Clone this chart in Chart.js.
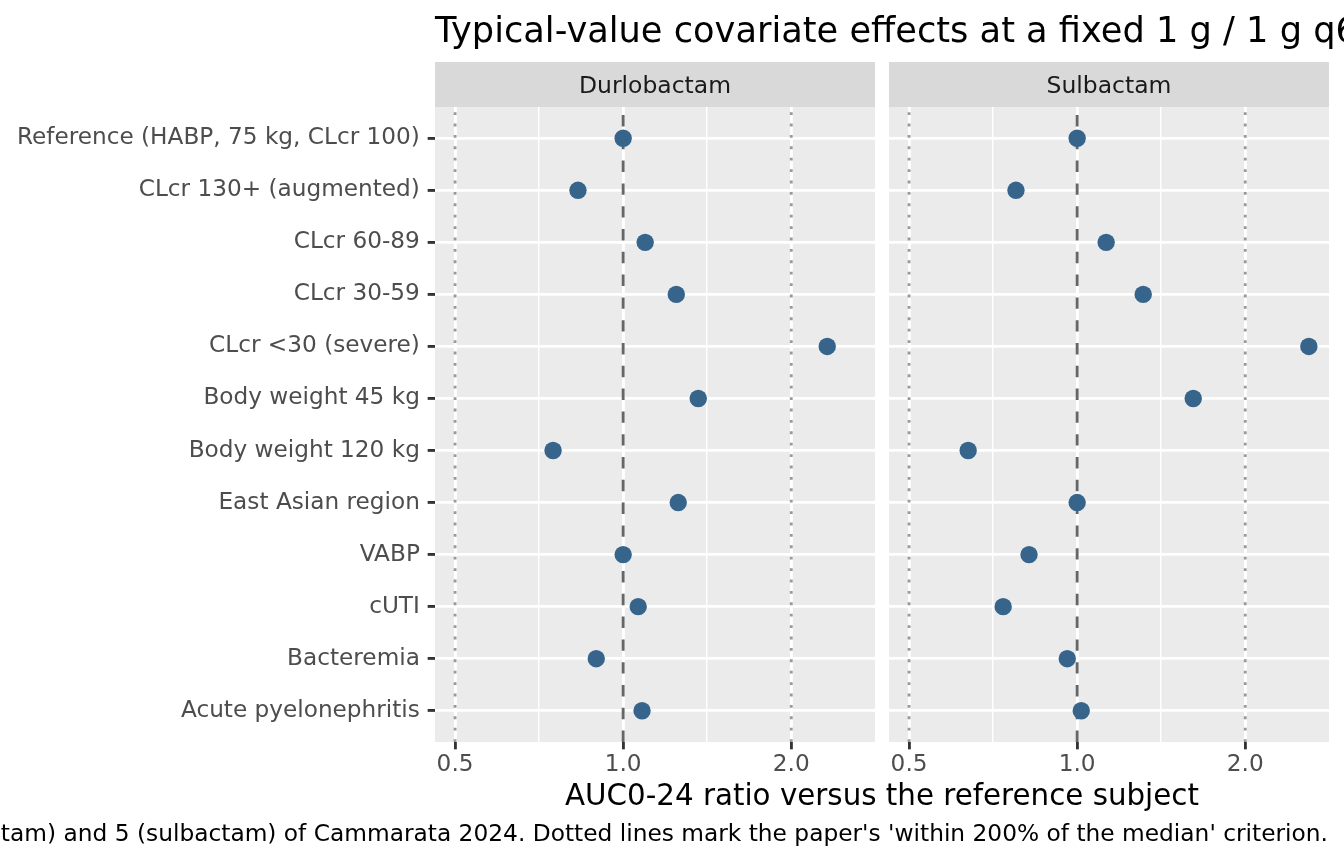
<!DOCTYPE html>
<html>
<head>
<meta charset="utf-8">
<script src="https://cdn.jsdelivr.net/npm/chart.js@4.4.1/dist/chart.umd.min.js"></script>
<style>
  html, body { margin: 0; padding: 0; background: #fff; }
  #wrap { position: relative; width: 1344px; height: 864px; overflow: hidden; font-family: "DejaVu Sans", sans-serif; }
  #wrap canvas { position: absolute; left: 0; top: 0; }
  .txt { position: absolute; white-space: nowrap; line-height: 1; color: #000; }
  #title { left: 435px; top: 11.6px; font-size: 35.2px; }
  #xlab { left: 882px; top: 781.2px; font-size: 29.33px; transform: translateX(-50%); }
  #caption { right: 16px; top: 821.3px; font-size: 23.3px; }
</style>
</head>
<body>
<div id="wrap">
  <canvas id="durlo" width="1344" height="864"></canvas>
  <canvas id="sulb" width="1344" height="864"></canvas>
  <div class="txt" id="title">Typical-value covariate effects at a fixed 1 g / 1 g q6h regimen</div>
  <div class="txt" id="xlab">AUC0-24 ratio versus the reference subject</div>
  <div class="txt" id="caption">Ratios read from Figures 4 (durlobactam) and 5 (sulbactam) of Cammarata 2024. Dotted lines mark the paper's 'within 200% of the median' criterion.</div>
</div>
<script>
const covariates = [
  "Reference (HABP, 75 kg, CLcr 100)",
  "CLcr 130+ (augmented)",
  "CLcr 60-89",
  "CLcr 30-59",
  "CLcr <30 (severe)",
  "Body weight 45 kg",
  "Body weight 120 kg",
  "East Asian region",
  "VABP",
  "cUTI",
  "Bacteremia",
  "Acute pyelonephritis"
];
const durlobactamRatio = [1.00, 0.83, 1.095, 1.245, 2.32, 1.363, 0.749, 1.255, 1.00, 1.064, 0.895, 1.081];
const sulbactamRatio = [1.00, 0.777, 1.127, 1.313, 2.60, 1.614, 0.638, 1.00, 0.82, 0.737, 0.96, 1.017];

const xTicks = [0.5, 1.0, 2.0];
const xMinorTicks = [0.7071, 1.4142];
const xLimits = [0.4603, 2.825];
const criterionLines = [0.5, 2.0];
const medianLine = 1.0;

const FONT = '"DejaVu Sans", sans-serif';
const AXIS_SIZE = 23.2;
const STRIP_SIZE = 23.47;

// panel background, strip and the reference lines
const panelDecor = {
  id: 'panelDecor',
  beforeDraw(chart, args, opts) {
    const { ctx, chartArea: a } = chart;
    ctx.save();
    ctx.fillStyle = '#EBEBEB';
    ctx.fillRect(a.left, a.top, a.right - a.left, a.bottom - a.top);
    ctx.fillStyle = '#D9D9D9';
    ctx.fillRect(a.left, 62, a.right - a.left, a.top - 62);
    ctx.fillStyle = '#1A1A1A';
    ctx.font = STRIP_SIZE + 'px ' + FONT;
    ctx.textAlign = 'center';
    ctx.textBaseline = 'alphabetic';
    ctx.fillText(opts.label, (a.left + a.right) / 2, 93.3);
    ctx.restore();
  },
  beforeDatasetsDraw(chart) {
    const { ctx, chartArea: a, scales } = chart;
    const x = scales.x;
    ctx.save();
    ctx.lineWidth = 2.85;
    ctx.lineCap = 'butt';
    ctx.strokeStyle = '#999999';
    ctx.setLineDash([2.85, 8.55]);
    criterionLines.forEach(v => {
      const px = x.getPixelForValue(v);
      ctx.beginPath();
      ctx.moveTo(px, a.bottom);
      ctx.lineTo(px, a.top);
      ctx.stroke();
    });
    ctx.strokeStyle = '#666666';
    ctx.setLineDash([11.4, 11.4]);
    const pm = x.getPixelForValue(medianLine);
    ctx.beginPath();
    ctx.moveTo(pm, a.bottom);
    ctx.lineTo(pm, a.top);
    ctx.stroke();
    ctx.restore();
  }
};

function makePanel(id, label, values, left, right, showY) {
  new Chart(document.getElementById(id), {
    type: 'scatter',
    data: {
      datasets: [{
        data: covariates.map((c, i) => ({ x: values[i], y: i })),
        backgroundColor: '#36648B',
        borderWidth: 0,
        pointRadius: 8.7,
        pointHoverRadius: 8.7
      }]
    },
    options: {
      responsive: false,
      animation: false,
      events: [],
      layout: { padding: { left: 0, right: 1344 - right, top: 107, bottom: 62 } },
      plugins: {
        legend: { display: false },
        tooltip: { enabled: false },
        panelDecor: { label: label }
      },
      scales: {
        x: {
          type: 'logarithmic',
          bounds: 'data',
          min: xLimits[0],
          max: xLimits[1],
          border: { display: false },
          afterBuildTicks: s => {
            s.ticks = xTicks.concat(xMinorTicks).sort((a, b) => a - b).map(v => ({ value: v }));
          },
          afterFit: s => { s.height = 60; },
          grid: {
            color: '#FFFFFF',
            lineWidth: c => xTicks.includes(c.tick.value) ? 2.85 : 1.42,
            tickColor: c => xTicks.includes(c.tick.value) ? '#333333' : 'rgba(0,0,0,0)',
            tickWidth: 2.85,
            tickLength: 7.33
          },
          ticks: {
            autoSkip: false,
            maxRotation: 0,
            padding: 1.5,
            color: '#4D4D4D',
            font: { family: FONT, size: AXIS_SIZE },
            callback: v => xTicks.includes(v) ? v.toFixed(1) : ''
          }
        },
        y: {
          type: 'linear',
          reverse: true,
          bounds: 'data',
          min: -0.6,
          max: covariates.length - 0.4,
          border: { display: false },
          afterBuildTicks: s => {
            s.ticks = covariates.map((c, i) => ({ value: i }));
          },
          afterFit: s => { s.width = left; },
          grid: {
            color: '#FFFFFF',
            lineWidth: 2.85,
            drawTicks: showY,
            tickColor: '#333333',
            tickWidth: 2.85,
            tickLength: 7.33
          },
          ticks: {
            display: showY,
            autoSkip: false,
            padding: 7.8,
            color: '#4D4D4D',
            font: { family: FONT, size: AXIS_SIZE },
            callback: v => covariates[v]
          }
        }
      }
    },
    plugins: [panelDecor]
  });
}

makePanel('durlo', 'Durlobactam', durlobactamRatio, 435, 875, true);
makePanel('sulb', 'Sulbactam', sulbactamRatio, 889, 1329, false);
</script>
</body>
</html>
